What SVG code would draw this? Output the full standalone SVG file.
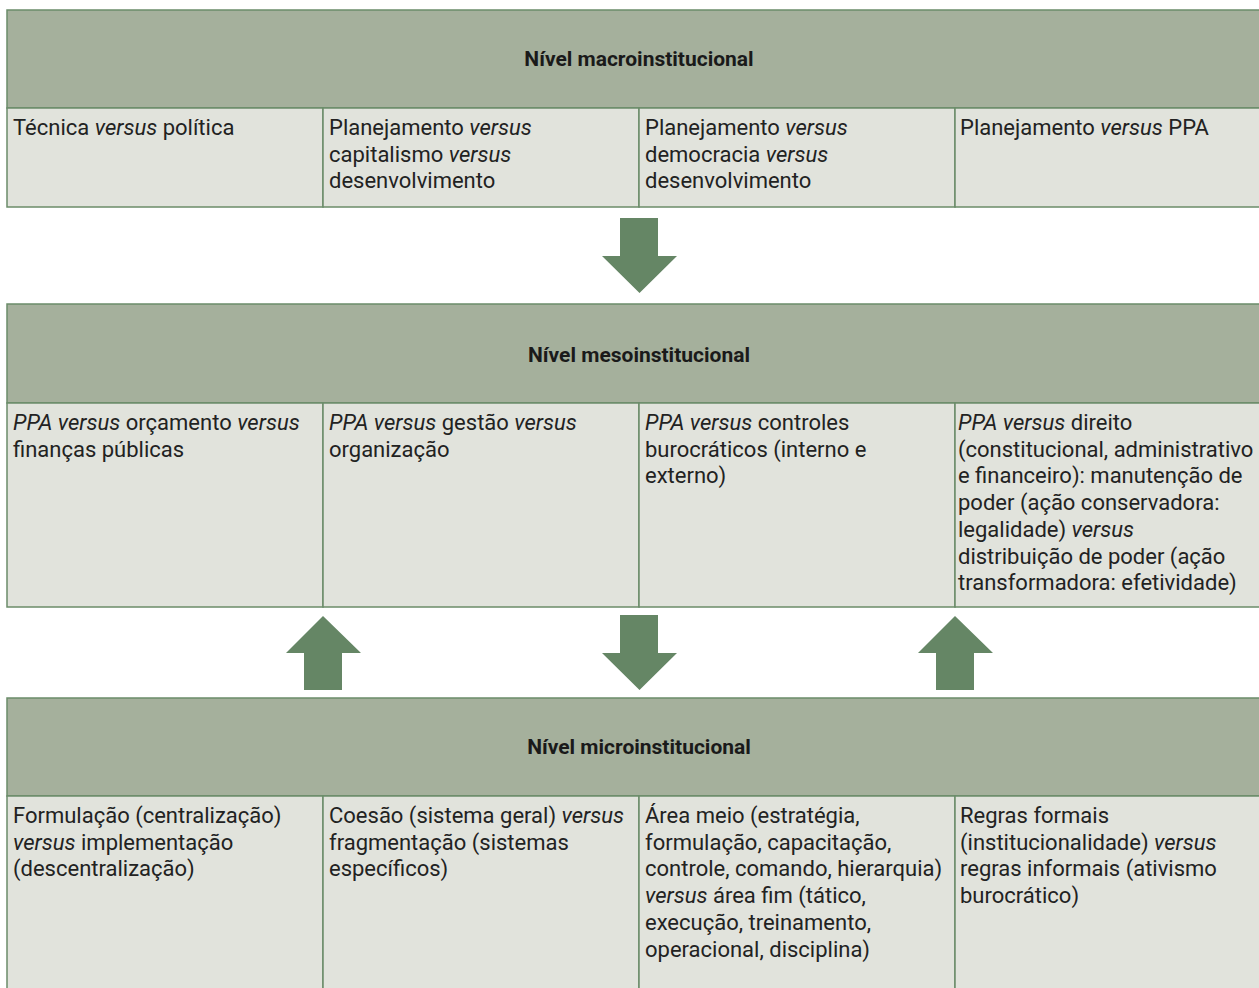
<svg xmlns="http://www.w3.org/2000/svg" width="1259" height="988" viewBox="0 0 1259 988">
<style>
.hd{fill:#a5b09c;stroke:#6b8c69;stroke-width:1.5}
.cl{fill:#e1e3dc;stroke:#6b8c69;stroke-width:1.5}
.ht{font-family:Roboto,"Liberation Sans",sans-serif;font-weight:bold;font-size:21px;fill:#1a1a1a;text-anchor:middle}
.t{font-family:Roboto,"Liberation Sans",sans-serif;font-size:22px;fill:#222}
.i{font-style:italic}
.ar{fill:#658665}
</style>
<rect width="1259" height="988" fill="#ffffff"/>
<g id="macro">
<g id="macro-header"><rect class="hd" x="7" y="10" width="1264" height="98"/><text class="ht" x="639" y="66">Nível macroinstitucional</text></g>
<g id="macro-c1"><rect class="cl" x="7" y="108" width="316" height="99"/><text class="t" x="13" y="135">Técnica <tspan class="i">versus</tspan> política</text></g>
<g id="macro-c2"><rect class="cl" x="323" y="108" width="316" height="99"/><text class="t" x="329" y="135">Planejamento <tspan class="i">versus</tspan><tspan x="329" dy="26.7">capitalismo </tspan><tspan class="i">versus</tspan><tspan x="329" dy="26.7">desenvolvimento</tspan></text></g>
<g id="macro-c3"><rect class="cl" x="639" y="108" width="316" height="99"/><text class="t" x="645" y="135">Planejamento <tspan class="i">versus</tspan><tspan x="645" dy="26.7">democracia </tspan><tspan class="i">versus</tspan><tspan x="645" dy="26.7">desenvolvimento</tspan></text></g>
<g id="macro-c4"><rect class="cl" x="955" y="108" width="316" height="99"/><text class="t" x="960" y="135">Planejamento <tspan class="i">versus</tspan> PPA</text></g>
</g>
<g id="meso">
<g id="meso-header"><rect class="hd" x="7" y="304" width="1264" height="99"/><text class="ht" x="639" y="362">Nível mesoinstitucional</text></g>
<g id="meso-c1"><rect class="cl" x="7" y="403" width="316" height="204"/><text class="t" x="13" y="430"><tspan class="i">PPA versus</tspan> orçamento <tspan class="i">versus</tspan><tspan x="13" dy="26.7">finanças públicas</tspan></text></g>
<g id="meso-c2"><rect class="cl" x="323" y="403" width="316" height="204"/><text class="t" x="329" y="430"><tspan class="i">PPA versus</tspan> gestão <tspan class="i">versus</tspan><tspan x="329" dy="26.7">organização</tspan></text></g>
<g id="meso-c3"><rect class="cl" x="639" y="403" width="316" height="204"/><text class="t" x="645" y="430"><tspan class="i">PPA versus</tspan> controles<tspan x="645" dy="26.7">burocráticos (interno e</tspan><tspan x="645" dy="26.7">externo)</tspan></text></g>
<g id="meso-c4"><rect class="cl" x="955" y="403" width="316" height="204"/><text class="t" x="958" y="430"><tspan class="i">PPA versus</tspan> direito<tspan x="958" dy="26.7">(constitucional, administrativo</tspan><tspan x="958" dy="26.7">e financeiro): manutenção de</tspan><tspan x="958" dy="26.7">poder (ação conservadora:</tspan><tspan x="958" dy="26.7">legalidade) </tspan><tspan class="i">versus</tspan><tspan x="958" dy="26.7">distribuição de poder (ação</tspan><tspan x="958" dy="26.7">transformadora: efetividade)</tspan></text></g>
</g>
<g id="micro">
<g id="micro-header"><rect class="hd" x="7" y="698" width="1264" height="98"/><text class="ht" x="639" y="754">Nível microinstitucional</text></g>
<g id="micro-c1"><rect class="cl" x="7" y="796" width="316" height="210"/><text class="t" x="13" y="823">Formulação (centralização)<tspan x="13" dy="26.7" class="i">versus</tspan><tspan> implementação</tspan><tspan x="13" dy="26.7">(descentralização)</tspan></text></g>
<g id="micro-c2"><rect class="cl" x="323" y="796" width="316" height="210"/><text class="t" x="329" y="823">Coesão (sistema geral) <tspan class="i">versus</tspan><tspan x="329" dy="26.7">fragmentação (sistemas</tspan><tspan x="329" dy="26.7">específicos)</tspan></text></g>
<g id="micro-c3"><rect class="cl" x="639" y="796" width="316" height="210"/><text class="t" x="645" y="823">Área meio (estratégia,<tspan x="645" dy="26.7">formulação, capacitação,</tspan><tspan x="645" dy="26.7">controle, comando, hierarquia)</tspan><tspan x="645" dy="26.7" class="i">versus</tspan><tspan> área fim (tático,</tspan><tspan x="645" dy="26.7">execução, treinamento,</tspan><tspan x="645" dy="26.7">operacional, disciplina)</tspan></text></g>
<g id="micro-c4"><rect class="cl" x="955" y="796" width="316" height="210"/><text class="t" x="960" y="823">Regras formais<tspan x="960" dy="26.7">(institucionalidade) </tspan><tspan class="i">versus</tspan><tspan x="960" dy="26.7">regras informais (ativismo</tspan><tspan x="960" dy="26.7">burocrático)</tspan></text></g>
</g>
<g id="connectors">
<polygon class="ar" points="620,218 658,218 658,256 677,256 639.5,293 602,256 620,256"/>
<polygon class="ar" points="323,616 361,653 342,653 342,690 304,690 304,653 286,653"/>
<polygon class="ar" points="620,615 658,615 658,653 677,653 639.5,690 602,653 620,653"/>
<polygon class="ar" points="955,616 993,653 974,653 974,690 936,690 936,653 918,653"/>
</g>
</svg>
